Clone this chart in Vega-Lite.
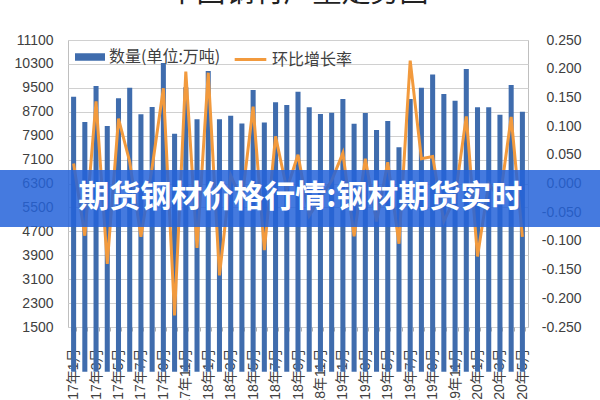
{
  "$schema": "https://vega.github.io/schema/vega-lite/v6.json",
  "width": 460,
  "height": 287,
  "autosize": {"type": "none"},
  "padding": {"left": 68, "top": 40, "right": 72, "bottom": 73},
  "background": "white",
  "title": {"text": "中国钢材产量走势图", "fontSize": 29, "offset": 0, "dy": 4, "baseline": "bottom", "font": "Noto Sans CJK SC", "fontWeight": "normal", "color": "#222222", "anchor": "middle"},
  "config": {
    "view": {"stroke": "#bfbfbf", "strokeWidth": 1},
    "axis": {"labelFont": "Liberation Sans", "labelColor": "#404040", "titleFont": "Liberation Sans"}
  },
  "datasets": {
    "steel": [
      {"month": "2017年1月", "qty": 9200, "rate": 0.035},
      {"month": "2017年2月", "qty": 8360, "rate": -0.091},
      {"month": "2017年3月", "qty": 9560, "rate": 0.143},
      {"month": "2017年4月", "qty": 8220, "rate": -0.140},
      {"month": "2017年5月", "qty": 9150, "rate": 0.113},
      {"month": "2017年6月", "qty": 9500, "rate": 0.038},
      {"month": "2017年7月", "qty": 8620, "rate": -0.093},
      {"month": "2017年8月", "qty": 8860, "rate": 0.028},
      {"month": "2017年9月", "qty": 10330, "rate": 0.166},
      {"month": "2017年10月", "qty": 7960, "rate": -0.230},
      {"month": "2017年11月", "qty": 9520, "rate": 0.195},
      {"month": "2017年12月", "qty": 8450, "rate": -0.112},
      {"month": "2018年1月", "qty": 10060, "rate": 0.193},
      {"month": "2018年2月", "qty": 8450, "rate": -0.160},
      {"month": "2018年3月", "qty": 8570, "rate": 0.014},
      {"month": "2018年4月", "qty": 8310, "rate": -0.030},
      {"month": "2018年5月", "qty": 9430, "rate": 0.134},
      {"month": "2018年6月", "qty": 8340, "rate": -0.116},
      {"month": "2018年7月", "qty": 9015, "rate": 0.082},
      {"month": "2018年8月", "qty": 8925, "rate": -0.010},
      {"month": "2018年9月", "qty": 9370, "rate": 0.050},
      {"month": "2018年10月", "qty": 8850, "rate": -0.056},
      {"month": "2018年11月", "qty": 8625, "rate": -0.025},
      {"month": "2018年12月", "qty": 8665, "rate": 0.005},
      {"month": "2019年1月", "qty": 9125, "rate": 0.053},
      {"month": "2019年2月", "qty": 8300, "rate": -0.092},
      {"month": "2019年3月", "qty": 8655, "rate": 0.043},
      {"month": "2019年4月", "qty": 8090, "rate": -0.066},
      {"month": "2019年5月", "qty": 8390, "rate": 0.037},
      {"month": "2019年6月", "qty": 7510, "rate": -0.105},
      {"month": "2019年7月", "qty": 9125, "rate": 0.214},
      {"month": "2019年8月", "qty": 9500, "rate": 0.043},
      {"month": "2019年9月", "qty": 9950, "rate": 0.047},
      {"month": "2019年10月", "qty": 9295, "rate": -0.066},
      {"month": "2019年11月", "qty": 9070, "rate": -0.024},
      {"month": "2019年12月", "qty": 10130, "rate": 0.117},
      {"month": "2020年1月", "qty": 8850, "rate": -0.127},
      {"month": "2020年2月", "qty": 8850, "rate": 0.000},
      {"month": "2020年3月", "qty": 8600, "rate": -0.028},
      {"month": "2020年4月", "qty": 9595, "rate": 0.116},
      {"month": "2020年5月", "qty": 8700, "rate": -0.093}
    ],
    "banner": [
      {"text": "期货钢材价格行情:钢材期货实时", "x1": -0.148, "x2": 1.157, "y1": 0.348, "y2": 0.547, "xm": 0.505, "ym": 0.449}
    ]
  },
  "layer": [
    {
      "data": {"name": "steel"},
      "encoding": {
        "x": {
          "field": "month", "type": "ordinal", "sort": null,
          "scale": {"paddingInner": 0.55, "paddingOuter": 0.275},
          "axis": {
            "title": null, "domain": false, "grid": false,
            "tickBand": "extent", "tickSize": 4, "tickColor": "#b0b0b0",
            "labelAngle": -90, "labelAlign": "right", "labelBaseline": "middle",
            "labelPadding": 17, "labelFontSize": 14,
            "labelFont": "Liberation Sans, Noto Sans CJK SC",
            "labelOverlap": false,
            "labelExpr": "test(/年(1|3|5|7|9|11)月/, datum.value) ? datum.value : ''"
          }
        }
      },
      "layer": [
        {
          "mark": {"type": "bar", "color": "#3f6cad"},
          "encoding": {
            "y": {
              "field": "qty", "type": "quantitative",
              "scale": {"domain": [1500, 11100], "zero": false, "nice": false},
              "axis": {
                "title": null, "orient": "left",
                "values": [1500, 2300, 3100, 3900, 4700, 5500, 6300, 7100, 7900, 8700, 9500, 10300, 11100],
                "format": "d", "domain": false, "ticks": false,
                "labelPadding": 15, "labelFontSize": 14,
                "grid": true, "gridColor": "#d0d0d0"
              }
            },
            "fill": {
              "datum": "数量(单位:万吨)",
              "scale": {"range": ["#3f6cad"]},
              "legend": {
                "title": null, "orient": "none", "legendX": 7, "legendY": 2,
                "symbolType": "M-1,-0.25H1V0.25H-1Z", "symbolSize": 900,
                "symbolStrokeWidth": 0,
                "labelFont": "Noto Sans CJK SC", "labelFontSize": 16,
                "labelColor": "#404040", "labelOffset": 4
              }
            }
          }
        },
        {
          "mark": {"type": "line", "color": "#f29a3d", "strokeWidth": 3},
          "encoding": {
            "y": {
              "field": "rate", "type": "quantitative",
              "scale": {"domain": [-0.25, 0.25], "nice": false, "zero": false},
              "axis": {
                "title": null, "orient": "right",
                "values": [-0.25, -0.2, -0.15, -0.1, -0.05, 0, 0.05, 0.1, 0.15, 0.2, 0.25],
                "labelExpr": "replace(format(datum.value, '.3f'), '\u2212', '-')",
                "domain": false, "ticks": false, "grid": false,
                "labelAlign": "right",
                "labelPadding": 53, "labelFontSize": 14
              }
            },
            "stroke": {
              "datum": "环比增长率",
              "scale": {"range": ["#f29a3d"]},
              "legend": {
                "title": null, "orient": "none", "legendX": 165, "legendY": 2,
                "symbolType": "stroke", "symbolSize": 1000, "symbolStrokeWidth": 3,
                "labelFont": "Noto Sans CJK SC", "labelFontSize": 16,
                "labelColor": "#404040", "labelOffset": 4
              }
            }
          }
        }
      ],
      "resolve": {"scale": {"y": "independent"}}
    },
    {
      "data": {"name": "banner"},
      "layer": [
        {
          "mark": {"type": "rect", "fill": "#2563d9", "opacity": 0.85, "clip": false},
          "encoding": {
            "x": {"field": "x1", "type": "quantitative", "scale": {"domain": [0, 1], "nice": false, "zero": false}, "axis": null},
            "x2": {"field": "x2"},
            "y": {"field": "y1", "type": "quantitative", "scale": {"domain": [0, 1], "nice": false, "zero": false}, "axis": null},
            "y2": {"field": "y2"}
          }
        },
        {
          "mark": {"type": "text", "color": "white", "font": "Noto Sans CJK SC", "fontWeight": "bold", "fontSize": 31, "align": "center", "baseline": "middle", "clip": false},
          "encoding": {
            "x": {"field": "xm", "type": "quantitative", "scale": {"domain": [0, 1], "nice": false, "zero": false}, "axis": null},
            "y": {"field": "ym", "type": "quantitative", "scale": {"domain": [0, 1], "nice": false, "zero": false}, "axis": null},
            "text": {"field": "text"}
          }
        }
      ]
    }
  ],
  "resolve": {"scale": {"x": "independent", "y": "independent"}}
}
